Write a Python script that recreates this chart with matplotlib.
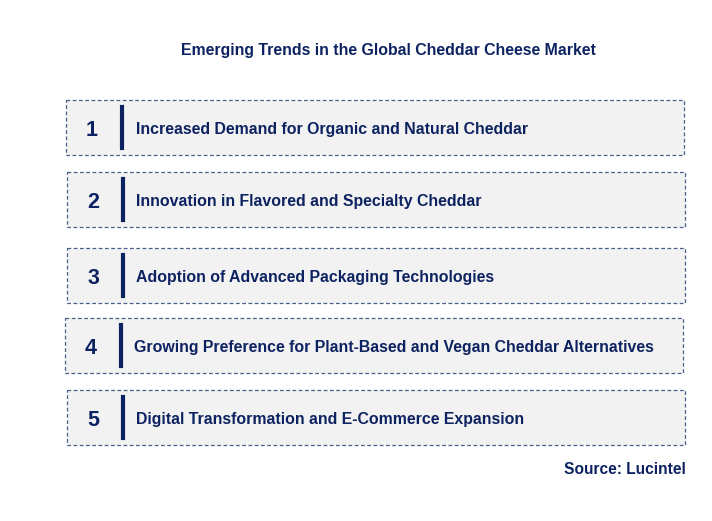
import matplotlib
matplotlib.use("Agg")
import matplotlib.pyplot as plt
from matplotlib.patches import Rectangle

title = "Emerging Trends in the Global Cheddar Cheese Market"
numbers = ["1", "2", "3", "4", "5"]
trends = [
    "Increased Demand for Organic and Natural Cheddar",
    "Innovation in Flavored and Specialty Cheddar",
    "Adoption of Advanced Packaging Technologies",
    "Growing Preference for Plant-Based and Vegan Cheddar Alternatives",
    "Digital Transformation and E-Commerce Expansion",
]
source = "Source: Lucintel"

box_x = [66, 67, 67, 65, 67]
box_y = [100, 172, 248, 318, 390]
box_w = 618
box_h = 55
navy = "#0d2260"

fig = plt.figure(figsize=(7.12, 5.21), dpi=100)
ax = fig.add_axes([0, 0, 1, 1])
ax.set_xlim(0, 712)
ax.set_ylim(521, 0)
ax.axis("off")

ax.text(388, 50, title, ha="center", va="center", fontsize=11.45, fontweight="bold",
        color=navy, family="Liberation Sans")
for i, (n, t) in enumerate(zip(numbers, trends)):
    x, y = box_x[i], box_y[i]
    ax.add_patch(Rectangle((x, y), box_w, box_h, facecolor="#f2f2f2",
                           edgecolor="#4a5f8a", linestyle=(0, (3, 2)), linewidth=0.9))
    cy = y + box_h / 2
    ax.text(x + 26, cy + 3, n, ha="center", va="center", fontsize=15.5, fontweight="bold",
            color=navy, family="Liberation Sans")
    ax.plot([x + 56, x + 56], [y + 7, y + box_h - 7], color=navy, linewidth=3)
    ax.text(x + 69.5, cy + 2, t, ha="left", va="center", fontsize=11.4, fontweight="bold",
            color=navy, family="Liberation Sans")
ax.text(686, 469, source, ha="right", va="center", fontsize=11.2, fontweight="bold",
        color=navy, family="Liberation Sans")
fig.savefig("out.png", dpi=100)
